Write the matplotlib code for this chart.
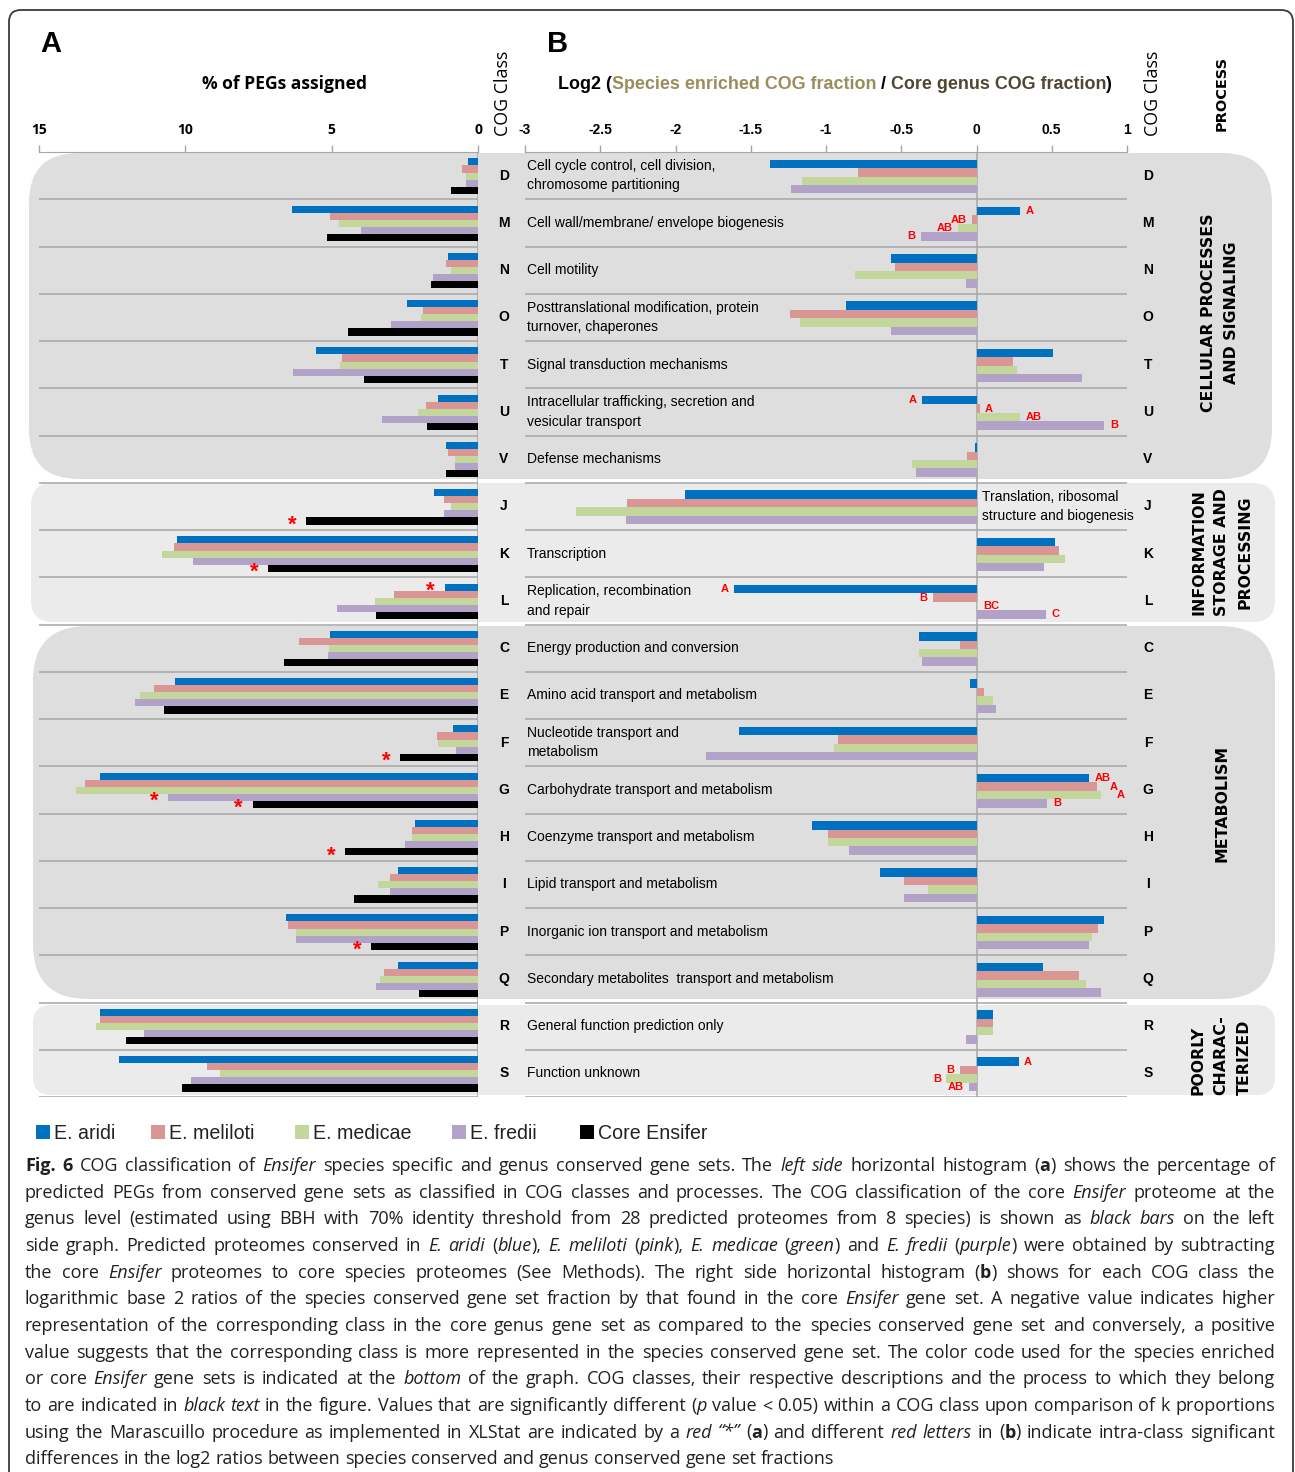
import matplotlib
matplotlib.use('Agg')
import matplotlib.pyplot as plt
import numpy as np
from matplotlib.patches import FancyBboxPatch, Rectangle, PathPatch
from matplotlib.path import Path

# Data
# =========================
cog_classes = ['D', 'M', 'N', 'O', 'T', 'U', 'V', 'J', 'K', 'L',
               'C', 'E', 'F', 'G', 'H', 'I', 'P', 'Q', 'R', 'S']
descriptions = ['Cell cycle control, cell division,\nchromosome partitioning',
                'Cell wall/membrane/ envelope biogenesis',
                'Cell motility',
                'Posttranslational modification, protein\nturnover, chaperones',
                'Signal transduction mechanisms',
                'Intracellular trafficking, secretion and\nvesicular transport',
                'Defense mechanisms',
                'Translation, ribosomal\nstructure and biogenesis',
                'Transcription',
                'Replication, recombination\nand repair',
                'Energy production and conversion',
                'Amino acid transport and metabolism',
                'Nucleotide transport and\nmetabolism',
                'Carbohydrate transport and metabolism',
                'Coenzyme transport and metabolism',
                'Lipid transport and metabolism',
                'Inorganic ion transport and metabolism',
                'Secondary metabolites  transport and metabolism',
                'General function prediction only',
                'Function unknown']
series = ['E. aridi', 'E. meliloti', 'E. medicae', 'E. fredii', 'Core Ensifer']
colors = ['#0070c0', '#d99694', '#c3d69b', '#b3a2c7', '#000000']

# panel A: % of PEGs assigned
pct_aridi    = [0.34, 6.35, 1.04, 2.42, 5.55, 1.36, 1.08, 1.49, 10.30, 1.14,
                5.04, 10.36, 0.87, 12.93, 2.14, 2.73, 6.56, 2.73, 12.93, 12.26]
pct_meliloti = [0.54, 5.05, 1.08, 1.88, 4.63, 1.79, 1.04, 1.15, 10.40, 2.87,
                6.13, 11.08, 1.40, 13.44, 2.27, 3.02, 6.49, 3.21, 12.93, 9.26]
pct_medicae  = [0.40, 4.76, 0.91, 1.96, 4.73, 2.04, 0.80, 0.91, 10.80, 3.52,
                5.09, 11.55, 1.36, 13.73, 2.25, 3.41, 6.22, 3.34, 13.06, 8.83]
pct_fredii   = [0.40, 4.00, 1.53, 2.97, 6.31, 3.29, 0.80, 1.15, 9.75, 4.82,
                5.14, 11.73, 0.74, 10.60, 2.51, 3.02, 6.22, 3.50, 11.42, 9.80]
pct_core     = [0.91, 5.17, 1.60, 4.44, 3.91, 1.73, 1.08, 5.86, 7.16, 3.50,
                6.62, 10.72, 2.66, 7.70, 4.54, 4.22, 3.66, 2.01, 12.02, 10.12]

# panel B: log2 ratios
log2_aridi    = [-1.37, 0.29, -0.57, -0.87, 0.51, -0.36, -0.01, -1.94, 0.52, -1.61,
                 -0.38, -0.04, -1.58, 0.75, -1.09, -0.64, 0.85, 0.44, 0.11, 0.28]
log2_meliloti = [-0.79, -0.03, -0.54, -1.24, 0.24, 0.02, -0.06, -2.32, 0.55, -0.29,
                 -0.11, 0.05, -0.92, 0.80, -0.99, -0.48, 0.81, 0.68, 0.11, -0.11]
log2_medicae  = [-1.16, -0.12, -0.81, -1.17, 0.27, 0.29, -0.43, -2.66, 0.59, 0.01,
                 -0.38, 0.11, -0.95, 0.83, -0.99, -0.32, 0.77, 0.73, 0.11, -0.20]
log2_fredii   = [-1.23, -0.37, -0.07, -0.57, 0.70, 0.85, -0.40, -2.33, 0.45, 0.46,
                 -0.36, 0.13, -1.80, 0.47, -0.85, -0.48, 0.75, 0.83, -0.07, -0.05]

# significance marks: red star in A (class, series), red letters in B
stars = [('J', 4), ('K', 4), ('L', 0), ('F', 4), ('G', 3), ('G', 4), ('H', 4), ('P', 4)]
letters = [('M', 0, 'A'), ('M', 1, 'AB'), ('M', 2, 'AB'), ('M', 3, 'B'),
           ('U', 0, 'A'), ('U', 1, 'A'), ('U', 2, 'AB'), ('U', 3, 'B'),
           ('L', 0, 'A'), ('L', 1, 'B'), ('L', 2, 'BC'), ('L', 3, 'C'),
           ('G', 0, 'AB'), ('G', 1, 'A'), ('G', 2, 'A'), ('G', 3, 'B'),
           ('S', 0, 'A'), ('S', 1, 'B'), ('S', 2, 'B'), ('S', 3, 'AB')]
# extra horizontal nudge (points) where stacked letters would collide
letter_nudge = {('G', 1): 5, ('G', 2): 7}

processes = ['CELLULAR PROCESSES\nAND SIGNALING', 'INFORMATION\nSTORAGE AND\nPROCESSING',
             'METABOLISM', 'POORLY\nCHARAC-\nTERIZED']

caption = [
    '#Fig. 6# COG classification of _Ensifer_ species specific and genus conserved gene sets. The _left side_ horizontal histogram (#a#) shows the percentage of',
    'predicted PEGs from conserved gene sets as classified in COG classes and processes. The COG classification of the core _Ensifer_ proteome at the',
    'genus level (estimated using BBH with 70% identity threshold from 28 predicted proteomes from 8 species) is shown as _black bars_ on the left',
    'side graph. Predicted proteomes conserved in _E. aridi_ (_blue_), _E. meliloti_ (_pink_), _E. medicae_ (_green_) and _E. fredii_ (_purple_) were obtained by subtracting',
    'the core _Ensifer_ proteomes to core species proteomes (See Methods). The right side horizontal histogram (#b#) shows for each COG class the',
    'logarithmic base 2 ratios of the species conserved gene set fraction by that found in the core _Ensifer_ gene set. A negative value indicates higher',
    'representation of the corresponding class in the core genus gene set as compared to the species conserved gene set and conversely, a positive',
    'value suggests that the corresponding class is more represented in the species conserved gene set. The color code used for the species enriched',
    'or core _Ensifer_ gene sets is indicated at the _bottom_ of the graph. COG classes, their respective descriptions and the process to which they belong',
    'to are indicated in _black text_ in the figure. Values that are significantly different (_p_ value < 0.05) within a COG class upon comparison of k proportions',
    'using the Marascuillo procedure as implemented in XLStat are indicated by a _red \u201c*\u201d_ (#a#) and different _red letters_ in (#b#) indicate intra-class significant',
    'differences in the log2 ratios between species conserved and genus conserved gene set fractions',
]

# Figure
# ======
W, H = 1295, 1472
NARROW = ['Liberation Sans Narrow', 'Liberation Sans', 'DejaVu Sans']
ARIAL = ['Liberation Sans', 'DejaVu Sans']
BODY = ['Open Sans', 'DejaVu Sans']
GRID = '#a6a6a6'

fig = plt.figure(figsize=(W / 100, H / 100), dpi=100)
bg = fig.add_axes([0, 0, 1, 1], zorder=0)   # pixel-coordinate layer
bg.set_xlim(0, W)
bg.set_ylim(H, 0)
bg.axis('off')
renderer = fig.canvas.get_renderer()


def width_of(txt, **kw):
    t = bg.text(0, 0, txt, **kw)
    w = t.get_window_extent(renderer).width
    t.remove()
    return w


def fit_size(txt, target, **kw):
    return 10 * target / width_of(txt, fontsize=10, **kw)


def px_box(x0, x1, y0, y1):
    return [x0 / W, 1 - y1 / H, (x1 - x0) / W, (y1 - y0) / H]


# outer frame (bottom runs off the page)
r = 12
verts = [(9, H + 5), (9, 10 + r), (9, 10), (9 + r, 10), (1293 - r, 10), (1293, 10),
         (1293, 10 + r), (1293, H + 5)]
codes = [Path.MOVETO, Path.LINETO, Path.CURVE3, Path.CURVE3, Path.LINETO,
         Path.CURVE3, Path.CURVE3, Path.LINETO]
bg.add_patch(PathPatch(Path(verts, codes), fill=False, ec='#3a3a3a', lw=1.3))

# process group backgrounds
groups = [(29, 1272, 153, 479, '#dedede', 50), (31, 1275, 483, 622, '#ebebeb', 22),
          (33, 1275, 626, 999, '#dedede', 55), (33, 1275, 1005, 1095, '#ebebeb', 18)]
for x0, x1, y0, y1, c, rad in groups:
    bg.add_patch(FancyBboxPatch((x0, y0), x1 - x0, y1 - y0,
                                boxstyle=f'round,pad=0,rounding_size={rad}',
                                fc=c, ec='none'))

ax_a = fig.add_axes(px_box(39, 478, 152, 1097), zorder=1)
ax_b = fig.add_axes(px_box(525, 1127, 152, 1097), zorder=1)
idx = {c: i for i, c in enumerate(cog_classes)}
y = np.arange(len(cog_classes))

# panel A bars
pct = [pct_aridi, pct_meliloti, pct_medicae, pct_fredii, pct_core]
h_a = 0.15
for k, vals in enumerate(pct):
    ax_a.barh(y + (k - 2) * h_a + 0.01, vals, height=h_a, color=colors[k], zorder=3)
for cls, k in stars:
    i = idx[cls]
    ax_a.annotate('*', (pct[k][i], i + (k - 2) * h_a + 0.01), xytext=(-10, -3),
                  textcoords='offset points', ha='center', va='center',
                  color='red', fontsize=16, fontweight='bold', family=ARIAL, zorder=4)

# panel B bars
lg = [log2_aridi, log2_meliloti, log2_medicae, log2_fredii]
h_b = 0.178
for k, vals in enumerate(lg):
    ax_b.barh(y + (k - 1.5) * h_b + 0.02, vals, height=h_b, color=colors[k], zorder=3)
for cls, k, lab in letters:
    i = idx[cls]
    v = lg[k][i]
    dx = 4 + letter_nudge.get((cls, k), 0)
    ax_b.annotate(lab, (v, i + (k - 1.5) * h_b + 0.02), xytext=(dx if v > 0 else -dx, 0),
                  textcoords='offset points', ha='left' if v > 0 else 'right', va='center',
                  color='red', fontsize=8, fontweight='bold', family=NARROW, zorder=4)

for ax, lim, ticks, labels in [
        (ax_a, (15, 0), [15, 10, 5, 0], ['15', '10', '5', '0']),
        (ax_b, (-3, 1), np.arange(-3, 1.01, 0.5), ['-3', '-2.5', '-2', '-1.5', '-1', '-0.5', '0', '0.5', '1'])]:
    ax.set_facecolor('none')
    ax.set_xlim(*lim)
    ax.set_ylim(len(cog_classes) - 0.5, -0.5)
    ax.set_yticks([])
    for s in ['left', 'right', 'bottom']:
        ax.spines[s].set_visible(False)
    ax.spines['top'].set_color(GRID)
    ax.xaxis.tick_top()
    ax.set_xticks(ticks)
    ax.set_xticklabels(labels, fontweight='bold', fontsize=10,
                       family=BODY if ax is ax_a else NARROW)
    ax.tick_params(axis='x', length=5, width=1, color=GRID, pad=6)
    for i in range(len(cog_classes)):
        ax.axhline(i + 0.5, color=GRID, lw=1.1, zorder=2)
    ax.axvline(0, color=GRID, lw=1.1, zorder=2)

# class letters, descriptions
desc_size = fit_size(descriptions[1], 258, family=NARROW)
for i, cls in enumerate(cog_classes):
    ax_a.text((504 - 39) / 439, i, cls, transform=ax_a.get_yaxis_transform(),
              ha='center', va='center', fontsize=10, fontweight='bold', family=ARIAL)
    ax_b.text((1148 - 525) / 602, i, cls, transform=ax_b.get_yaxis_transform(),
              ha='center', va='center', fontsize=10, fontweight='bold', family=NARROW)
    xd = (982 - 525) / 602 if cls == 'J' else (527 - 525) / 602
    ax_b.text(xd, i, descriptions[i], transform=ax_b.get_yaxis_transform(),
              ha='left', va='center', fontsize=desc_size, family=NARROW, linespacing=1.5)

# headers
bg.text(40, 52, 'A', fontsize=21, fontweight='bold', family=ARIAL)
bg.text(547, 52, 'B', fontsize=21, fontweight='bold', family=ARIAL)
s = fit_size('% of PEGs assigned', 165, family=BODY, fontweight='bold')
bg.text(284, 89, '% of PEGs assigned', ha='center', fontsize=s, fontweight='bold', family=BODY)

head = [('Log2 (', '#000000'), ('Species enriched COG fraction', '#9b8c5c'),
        (' / ', '#000000'), ('Core genus COG fraction', '#4f4733'), (')', '#000000')]
full = ''.join(t for t, _ in head)
s = fit_size(full, 551, family=NARROW, fontweight='bold')
ws = [width_of(t, fontsize=s, family=NARROW, fontweight='bold') for t, _ in head]
x = 835 - sum(ws) / 2
for (t, c), w in zip(head, ws):
    bg.text(x, 89, t, color=c, fontsize=s, fontweight='bold', family=NARROW)
    x += w

s = fit_size('COG Class', 85, family=BODY)
for xc in [503, 1153]:
    bg.text(xc, 93, 'COG Class', rotation=90, ha='center', va='center', fontsize=s, family=BODY)
s = fit_size('PROCESS', 75, family='DejaVu Sans', fontweight='bold')
bg.text(1222, 93, 'PROCESS', rotation=90, ha='center', va='center', fontsize=s,
        fontweight='bold', family='DejaVu Sans')

ps = fit_size('METABOLISM', 117, family='DejaVu Sans', fontweight='bold')
for lab, xc, yc, al in zip(processes, [1220, 1222, 1222, 1221], [313, 552, 803, 1055],
                           ['center', 'center', 'center', 'left']):
    bg.text(xc, yc, lab, rotation=90, ha='center', va='center', multialignment=al,
            fontsize=ps, fontweight='bold', family='DejaVu Sans', linespacing=1.7)

# legend
ls = fit_size('Core Ensifer', 110, family=NARROW)
for name, c, xs in zip(series, colors, [36, 151, 295, 452, 580]):
    bg.add_patch(Rectangle((xs, 1125), 14, 14, fc=c, ec='none'))
    bg.text(xs + 18, 1139, name, fontsize=ls, family=NARROW, color='#222222')


# caption, justified
def parse(line):
    words, cur, buf = [], [], ''
    ital = bold = False
    for ch in line:
        if ch in '_# ':
            if buf:
                cur.append((buf, ital, bold))
                buf = ''
            if ch == '_':
                ital = not ital
            elif ch == '#':
                bold = not bold
            elif cur:
                words.append(cur)
                cur = []
        else:
            buf += ch
    if buf:
        cur.append((buf, ital, bold))
    if cur:
        words.append(cur)
    return words


def run_kw(it, bd, size):
    return dict(fontsize=size, family=BODY, fontstyle='italic' if it else 'normal',
                fontweight='bold' if bd else 'normal', color='#231f20')


cs = fit_size(caption[-1].replace('_', '').replace('#', ''), 809, family=BODY)
space = width_of('a a', **run_kw(0, 0, cs)) - width_of('aa', **run_kw(0, 0, cs))
for n, line in enumerate(caption):
    words = parse(line)
    widths = [[width_of(t, **run_kw(it, bd, cs)) for t, it, bd in wd] for wd in words]
    total = sum(sum(w) for w in widths)
    last = n == len(caption) - 1
    gap = space if last else (1275 - 25 - total) / (len(words) - 1)
    x = 25
    yb = 1171 + n * 26.65
    for wd, wl in zip(words, widths):
        for (t, it, bd), w in zip(wd, wl):
            bg.text(x, yb, t, va='baseline', **run_kw(it, bd, cs))
            x += w
        x += gap

fig.savefig('out.png', dpi=100)
